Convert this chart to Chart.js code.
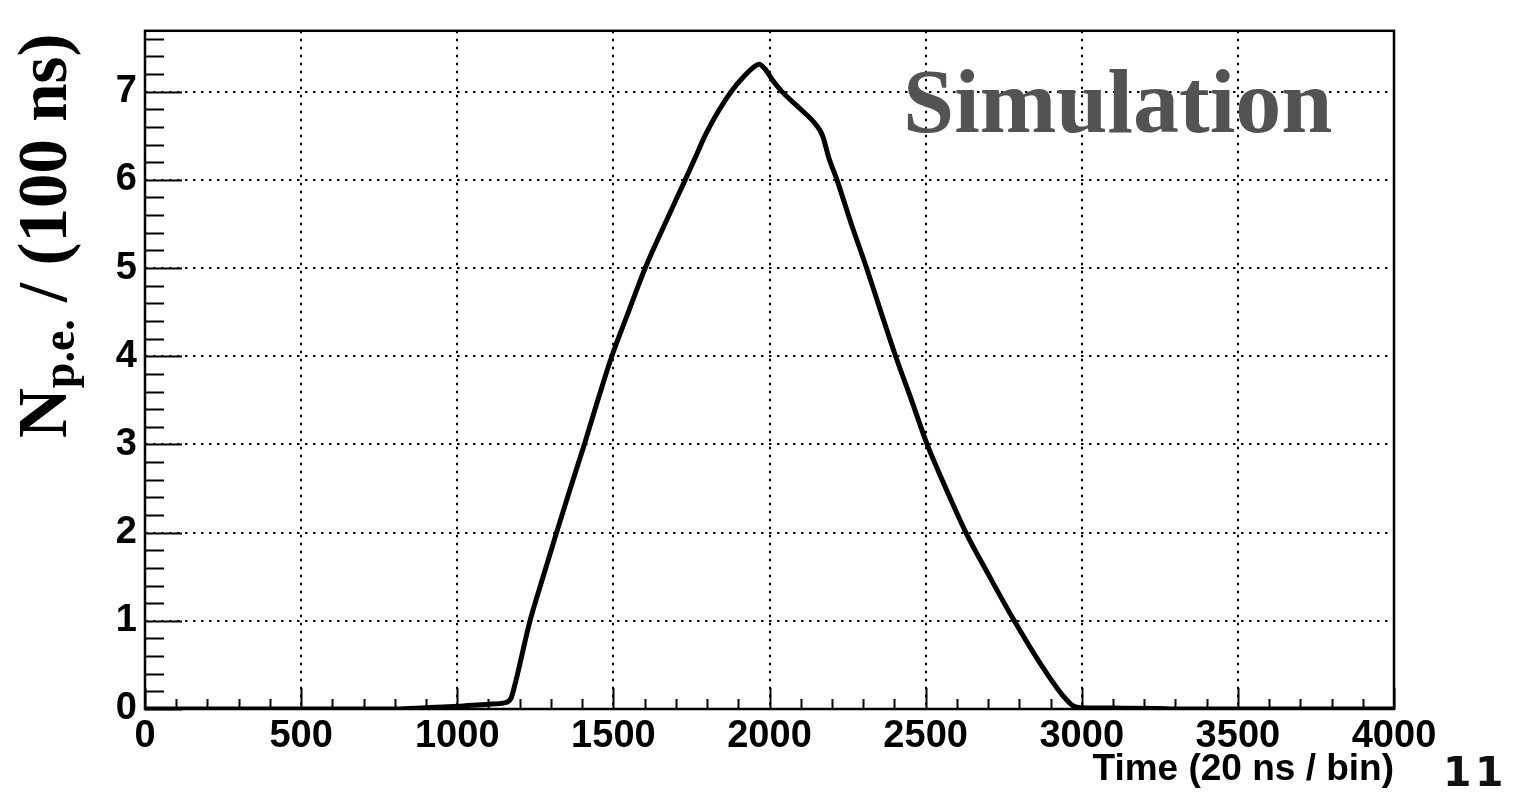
<!DOCTYPE html>
<html>
<head>
<meta charset="utf-8">
<script src="https://cdn.jsdelivr.net/npm/chart.js@4/dist/chart.umd.min.js"></script>
<style>
    html, body { margin: 0; padding: 0; background: #fff; }
    #wrap { width: 1516px; height: 799px; position: relative; }
</style>
</head>
<body>
<div id="wrap"><canvas id="pulseChart"></canvas></div>
<script>
// Pulse shape
const timeBins = [
    0, 800, 900, 1000, 1100, 1150, 1172, 1185, 1200, 1216,
    1233, 1275, 1318, 1362, 1407, 1450, 1495, 1548, 1602, 1665,
    1730, 1767, 1792, 1840, 1877, 1920, 1950, 1966, 1985, 2010,
    2040, 2100, 2150, 2170, 2190, 2216, 2262, 2311, 2357, 2404,
    2455, 2505, 2565, 2629, 2705, 2784, 2870, 2940, 2975, 3000,
    3100, 3250, 3300, 4000
];
const npe = [
    0, 0, 0.015, 0.03, 0.055, 0.07, 0.12, 0.28, 0.5, 0.75,
    1.0, 1.5, 2.0, 2.5, 3.0, 3.5, 4.0, 4.5, 5.0, 5.5,
    6.0, 6.29, 6.49, 6.8, 7.0, 7.18, 7.28, 7.31, 7.26, 7.13,
    7.0, 6.8, 6.62, 6.5, 6.25, 6.0, 5.5, 5.0, 4.5, 4.0,
    3.5, 3.0, 2.5, 2.0, 1.5, 1.0, 0.5, 0.15, 0.03, 0.015,
    0.01, 0.005, 0, 0
];
const xTicks = [0, 500, 1000, 1500, 2000, 2500, 3000, 3500, 4000];
const yTicks = [0, 1, 2, 3, 4, 5, 6, 7];

const points = timeBins.map((t, i) => ({ x: t, y: npe[i] }));

// ROOT-like frame, inward tick marks and text
const rootStyle = {
    id: 'rootStyle',
    afterDraw(chart) {
        const ctx = chart.ctx;
        const a = chart.chartArea;
        const xs = chart.scales.x;
        const ys = chart.scales.y;
        ctx.save();
        ctx.strokeStyle = '#000';
        ctx.lineWidth = 2;
        ctx.setLineDash([]);
        // ticks on x
        ctx.beginPath();
        for (let v = 0; v <= 4000; v += 100) {
            const px = Math.round(xs.getPixelForValue(v)) + 0.5;
            const len = v % 500 === 0 ? 21 : 10;
            ctx.moveTo(px, a.bottom);
            ctx.lineTo(px, a.bottom - len);
        }
        // ticks on y
        for (let k = 0; k * 0.2 <= ys.max; k++) {
            const py = Math.round(ys.getPixelForValue(k * 0.2)) + 0.5;
            const len = k % 5 === 0 ? 37 : 19;
            ctx.moveTo(a.left, py);
            ctx.lineTo(a.left + len, py);
        }
        ctx.stroke();
        ctx.lineWidth = 2.5;
        ctx.strokeRect(a.left, a.top, a.right - a.left, a.bottom - a.top);

        // Simulation label
        ctx.fillStyle = '#535353';
        ctx.font = 'bold 92px "Liberation Serif"';
        ctx.textAlign = 'left';
        ctx.textBaseline = 'alphabetic';
        ctx.fillText('Simulation', 903, 132);

        // y title, rotated, with subscript
        ctx.fillStyle = '#000';
        ctx.translate(66, 438);
        ctx.rotate(-Math.PI / 2);
        ctx.font = 'bold 69px "Liberation Serif"';
        ctx.fillText('N', 0, 0);
        let off = ctx.measureText('N').width;
        ctx.font = 'bold 46px "Liberation Serif"';
        ctx.fillText('p.e.', off, 8);
        off += ctx.measureText('p.e.').width;
        ctx.font = 'bold 69px "Liberation Serif"';
        ctx.fillText(' / (100 ns)', off, 0);
        ctx.restore();

        // page number
        ctx.save();
        ctx.fillStyle = '#111';
        ctx.font = 'bold 41px "DejaVu Sans"';
        ctx.textAlign = 'left';
        ctx.textBaseline = 'alphabetic';
        ctx.fillText('1', 1443, 786);
        ctx.fillText('1', 1475, 786);
        ctx.restore();
    }
};

const config = {
    type: 'line',
    data: {
        datasets: [{
            data: points,
            borderColor: '#000',
            borderWidth: 5,
            pointRadius: 0,
            cubicInterpolationMode: 'monotone',
            fill: false,
        }]
    },
    options: {
        responsive: true,
        maintainAspectRatio: false,
        animation: false,
        layout: {
            padding: { top: 24, right: 122, left: 0, bottom: 0 }
        },
        plugins: {
            legend: { display: false },
            tooltip: { enabled: false }
        },
        scales: {
            x: {
                type: 'linear',
                min: 0,
                max: 4000,
                afterFit: s => { s.height = 90; },
                afterBuildTicks: s => { s.ticks = xTicks.map(v => ({ value: v })); },
                border: { display: false, dash: [2.5, 5.5] },
                grid: {
                    color: c => (c.tick && (c.tick.value === 0 || c.tick.value === 4000)) ? 'transparent' : '#000',
                    lineWidth: 2,
                    drawTicks: false,
                },
                ticks: {
                    autoSkip: false,
                    maxRotation: 0,
                    padding: 5,
                    color: '#000',
                    callback: v => String(v),
                    font: { family: '"Liberation Sans"', size: 38, weight: 'bold' }
                },
                title: {
                    display: true,
                    text: 'Time (20 ns / bin)',
                    align: 'end',
                    color: '#000',
                    padding: { top: 0, bottom: 7 },
                    font: { family: '"Liberation Sans"', size: 37, weight: 'bold' }
                }
            },
            y: {
                min: 0,
                max: 7.69,
                afterFit: s => { s.width = 145; },
                afterBuildTicks: s => { s.ticks = yTicks.map(v => ({ value: v })); },
                border: { display: false, dash: [2.5, 5.5] },
                grid: {
                    color: c => (c.tick && c.tick.value === 0) ? 'transparent' : '#000',
                    lineWidth: 2,
                    drawTicks: false,
                },
                ticks: {
                    padding: 8,
                    color: '#000',
                    callback: v => String(v),
                    font: { family: '"Liberation Sans"', size: 38, weight: 'bold' }
                }
            }
        }
    },
    plugins: [rootStyle]
};

const pulseChart = new Chart(
    document.getElementById('pulseChart'),
    config
);
</script>
</body>
</html>
